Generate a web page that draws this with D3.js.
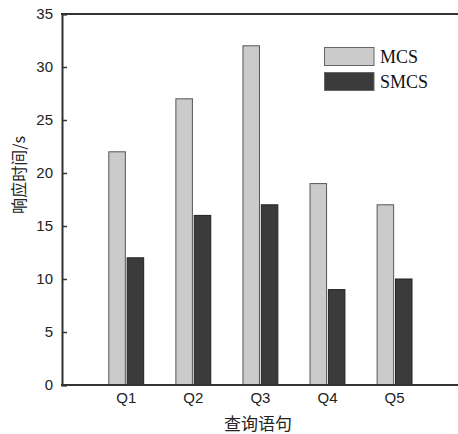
<!DOCTYPE html>
<html><head><meta charset="utf-8">
<script src="https://cdn.jsdelivr.net/npm/d3@7"></script>
<style>body{margin:0;background:#fff}svg{display:block}</style>
</head><body>
<script>
const categories = ["Q1","Q2","Q3","Q4","Q5"];
const seriesNames = ["MCS","SMCS"];
const mcs = [22,27,32,19,17];
const smcs = [12,16,17,9,10];
const yTicks = [0,5,10,15,20,25,30,35];

const W=458,H=434;
const m={l:62,t:14,r:0,b:49};
const svg=d3.select("body").append("svg").attr("width",W).attr("height",H);
const y=d3.scaleLinear().domain([0,35]).range([H-m.b,m.t]);
const x=d3.scaleBand().domain(categories).range([92.7,428.1]).paddingInner(0.48).paddingOuter(0.24);
const x1=d3.scaleBand().domain(seriesNames).range([0,x.bandwidth()]).paddingInner(0.1);
const fills={MCS:"#cbcbcb",SMCS:"#3b3b3b"};
const strokes={MCS:"#555",SMCS:"#222"};
const data=categories.map((c,i)=>({c,vals:[{s:"MCS",v:mcs[i]},{s:"SMCS",v:smcs[i]}]}));

const g=svg.append("g");
g.selectAll("g.cat").data(data).join("g").attr("transform",d=>`translate(${x(d.c)},0)`)
 .selectAll("rect").data(d=>d.vals).join("rect")
 .attr("x",d=>x1(d.s)).attr("width",x1.bandwidth())
 .attr("y",d=>y(d.v)).attr("height",d=>y(0)-y(d.v))
 .attr("fill",d=>fills[d.s]).attr("stroke",d=>strokes[d.s]).attr("stroke-width",1);

// y axis
const ya=svg.append("g").attr("transform",`translate(${m.l},0)`)
 .call(d3.axisLeft(y).tickValues(yTicks).tickSize(-5).tickPadding(9));
ya.select(".domain").attr("stroke","#333").attr("stroke-width",2);
ya.selectAll(".tick line").attr("stroke","#333").attr("stroke-width",1.5);
ya.selectAll("text").attr("font-family","Liberation Sans, Arial, sans-serif").attr("font-size",15).attr("fill","#222");

// x axis
const xa=svg.append("g").attr("transform",`translate(0,${y(0)})`)
 .call(d3.axisBottom(x).tickSize(0).tickPadding(7));
xa.select(".domain").remove();
xa.selectAll("text").attr("font-family","Liberation Sans, Arial, sans-serif").attr("font-size",15).attr("fill","#222");
svg.append("line").attr("x1",m.l-1).attr("x2",W).attr("y1",y(0)).attr("y2",y(0)).attr("stroke","#333").attr("stroke-width",2);
svg.append("line").attr("x1",m.l-1).attr("x2",W).attr("y1",m.t).attr("y2",m.t).attr("stroke","#333").attr("stroke-width",2);

// titles
svg.append("text").attr("x",258).attr("y",422).attr("text-anchor","middle").attr("dominant-baseline","central")
 .attr("font-family","Noto Sans CJK SC, sans-serif").attr("font-size",17).attr("fill","#222").text("查询语句");
svg.append("text").attr("transform","translate(18,175) rotate(-90)").attr("text-anchor","middle").attr("dominant-baseline","central")
 .attr("font-family","Noto Sans CJK SC, sans-serif").attr("font-size",16).attr("fill","#222").text("响应时间/s");

// legend
const lg=svg.append("g");
seriesNames.forEach((s,i)=>{
  const yy=[47.5,72.5][i];
  lg.append("rect").attr("x",324.5).attr("y",yy).attr("width",49.5).attr("height",18)
   .attr("fill",fills[s]).attr("stroke","#666").attr("stroke-width",1);
  lg.append("text").attr("x",380).attr("y",yy+9.5).attr("dominant-baseline","central")
   .attr("font-family","Liberation Serif, Times New Roman, serif").attr("font-size",18).attr("fill","#111").text(s);
});
</script>
</body></html>
